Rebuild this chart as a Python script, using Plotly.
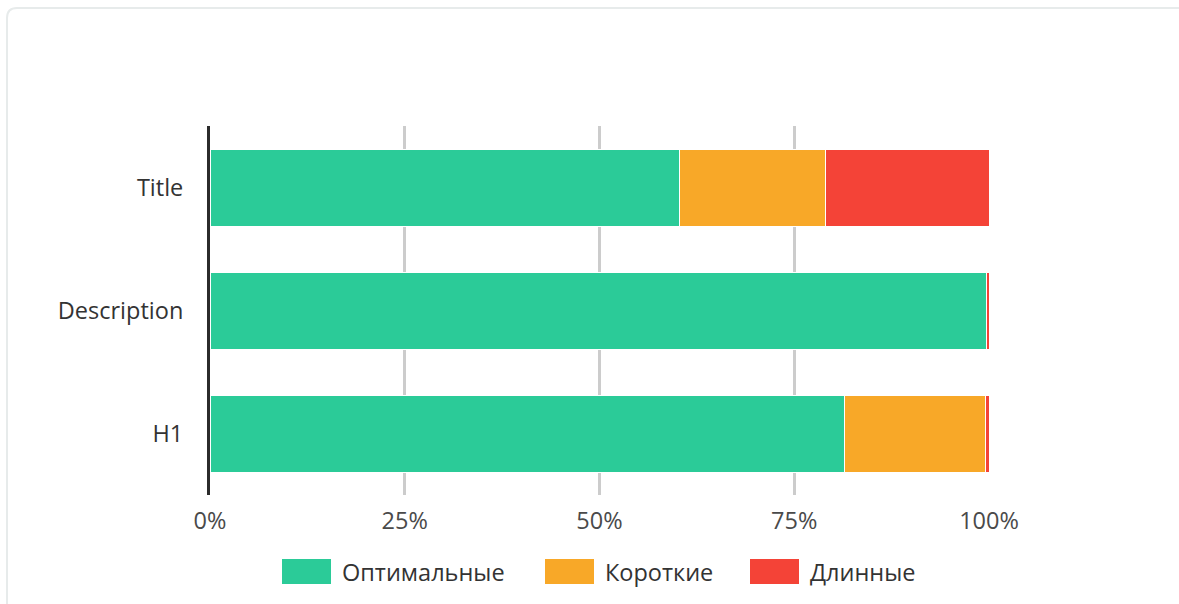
import plotly.graph_objects as go

categories = ["Title", "Description", "H1"]
series_names = ["Оптимальные", "Короткие", "Длинные"]
optimal = [60.3, 99.7, 81.5]
short = [18.7, 0.0, 18.0]
long_ = [21.0, 0.3, 0.5]
colors = ["#2bcb98", "#f8a828", "#f44337"]
tick_vals = [0, 25, 50, 75, 100]
tick_text = ["0%", "25%", "50%", "75%", "100%"]

W, H = 1179, 604
L, R, T, B = 210, 190, 126, 109
PW, PH = W - L - R, H - T - B


def px_x(px):
    return (px - L) / PW


def px_y(py):
    return (H - B - py) / PH


FONT = "Open Sans, Noto Sans, sans-serif"

fig = go.Figure()
for name, vals, col in zip(series_names, [optimal, short, long_], colors):
    fig.add_trace(go.Bar(
        y=categories, x=vals, name=name, orientation="h",
        marker=dict(color=col, line=dict(color="white", width=1)),
        showlegend=False, hoverinfo="x+name",
    ))

# card border (rounded rectangle, extends past right/bottom edges)
x0, y0, r = 7, 8, 10
x1, y1 = W + 20, H + 20
path = (
    f"M {px_x(x0)},{px_y(y1)} L {px_x(x0)},{px_y(y0 + r)} "
    f"Q {px_x(x0)},{px_y(y0)} {px_x(x0 + r)},{px_y(y0)} "
    f"L {px_x(x1)},{px_y(y0)}"
)
shapes = [dict(type="path", path=path, xref="paper", yref="paper",
               line=dict(color="#e7ebeb", width=2), layer="below")]

# custom legend
annotations = []
sw_x = [282, 545, 750]
sw_w, sw_top, sw_bot = 49, 559, 584
for name, col, sx in zip(series_names, colors, sw_x):
    shapes.append(dict(type="rect", xref="paper", yref="paper",
                       x0=px_x(sx), x1=px_x(sx + sw_w),
                       y0=px_y(sw_bot), y1=px_y(sw_top),
                       fillcolor=col, line=dict(width=0)))
    annotations.append(dict(text=name, xref="paper", yref="paper",
                            x=px_x(sx + sw_w + 9), y=px_y((sw_top + sw_bot) / 2),
                            xanchor="left", yanchor="middle", showarrow=False,
                            font=dict(family=FONT, size=23.5, color="#333333")))

fig.update_layout(
    width=W, height=H,
    margin=dict(l=L, r=R, t=T, b=B, pad=0),
    barmode="stack", bargap=0.374,
    plot_bgcolor="white", paper_bgcolor="white",
    font=dict(family=FONT, size=23.5, color="#333333"),
    shapes=shapes, annotations=annotations,
    xaxis=dict(range=[0, 100], tickvals=tick_vals, ticktext=tick_text,
               showgrid=True, gridcolor="#cccccc", gridwidth=2.7,
               zeroline=False, showline=False, ticks="",
               tickfont=dict(family=FONT, size=23.5, color="#4a4a4a"),
               ticklabelstandoff=9, fixedrange=True),
    yaxis=dict(categoryorder="array", categoryarray=categories[::-1],
               showgrid=False, zeroline=False, showline=True,
               linecolor="#2b2b2b", linewidth=3, ticks="",
               tickfont=dict(family=FONT, size=23.5, color="#333333"),
               ticklabelstandoff=19, fixedrange=True),
)

fig.write_html(
    "out.html",
    config={"displayModeBar": False},
    post_script="document.body.style.margin='0px';document.body.style.overflow='hidden';",
)
